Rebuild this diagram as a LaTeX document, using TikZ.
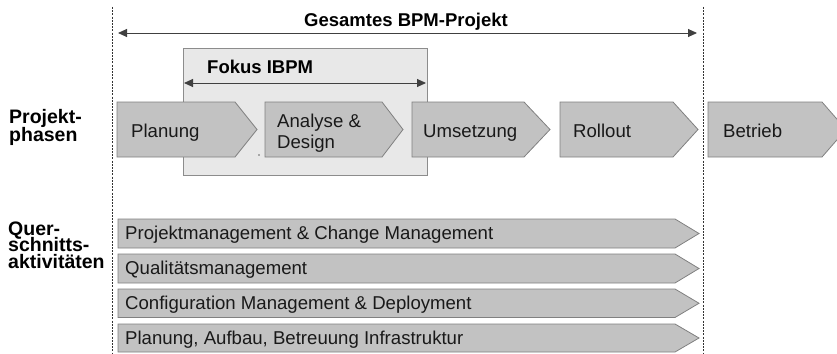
\documentclass[tikz,border=0pt]{standalone}
\usepackage{fontspec}
\setmainfont{Liberation Sans}
\usetikzlibrary{arrows.meta}
\definecolor{chevfill}{gray}{0.76}
\definecolor{chevline}{gray}{0.50}
\definecolor{boxfill}{gray}{0.91}
\definecolor{boxline}{gray}{0.55}
\begin{document}
\begin{tikzpicture}[x=1pt,y=-1pt,
  chevron/.style={fill=chevfill,draw=chevline,line width=0.8pt},
  focusbox/.style={fill=boxfill,draw=boxline,line width=0.9pt},
  divider/.style={draw=black!80,dash pattern=on 2pt off 1.2pt,line width=0.8pt},
  span/.style={{Triangle[length=9pt,width=8pt]}-{Triangle[length=9pt,width=8pt]},draw=black!75,line width=0.9pt},
  txt/.style={inner sep=0pt,font=\fontsize{18.6}{21}\selectfont,text=black!90},
  head/.style={inner sep=0pt,font=\fontsize{18.5}{18}\bfseries,text=black,align=left},
  rowhead/.style={inner sep=0pt,font=\fontsize{19.5}{18}\bfseries,text=black},
]
\useasboundingbox (0,0) rectangle (837,353);
% dividers
\coordinate (dlt) at (112.5,7); \coordinate (dlb) at (112.5,353);
\coordinate (drt) at (703,7); \coordinate (drb) at (703,353);
\draw[divider] (dlt) -- (dlb);
\draw[divider] (drt) -- (drb);
% overall span
\coordinate (gl) at (118,33); \coordinate (gr) at (697,33);
\draw[span] (gl) -- (gr);
\node[head,anchor=base] (gesamt) at (406,26.5) {Gesamtes BPM-Projekt};
% focus box
\draw[focusbox] (183,48) rectangle (427,175.5);
\coordinate (fl) at (184,83); \coordinate (fr) at (426,83);
\draw[span] (fl) -- (fr);
\node[head,anchor=base west] (fokus) at (207,74) {Fokus IBPM};
% phase chevrons
\draw[chevron] (117,102) -- (235,102) -- (257,129.5) -- (235,157) -- (117,157) -- cycle;
\draw[chevron] (265,102) -- (382,102) -- (403,129.5) -- (382,157) -- (265,157) -- cycle;
\draw[chevron] (412,102) -- (524,102) -- (550,129.5) -- (524,157) -- (412,157) -- cycle;
\draw[chevron] (560,102) -- (673,102) -- (698,129.5) -- (673,157) -- (560,157) -- cycle;
\draw[chevron] (708,102) -- (822,102) -- (846,129.5) -- (822,157) -- (708,157) -- cycle;
\fill[black!60] (259,155) circle (0.8);
\node[txt,anchor=base west] (planung) at (131,137) {Planung};
\node[txt,anchor=base west] (analyse) at (277,127) {Analyse \&};
\node[txt,anchor=base west] (design) at (277,148) {Design};
\node[txt,anchor=base west] (umsetzung) at (423,137) {Umsetzung};
\node[txt,anchor=base west] (rollout) at (573,137) {Rollout};
\node[txt,anchor=base west] (betrieb) at (723,137) {Betrieb};
% row labels
\node[rowhead,anchor=base west] (proj1) at (9,123.5) {Projekt-};
\node[rowhead,anchor=base west] (proj2) at (9,141.5) {phasen};
\node[rowhead,anchor=base west] (quer1) at (8,235) {Quer-};
\node[rowhead,anchor=base west] (quer2) at (8,251.5) {schnitts-};
\node[rowhead,anchor=base west] (quer3) at (8,268) {aktivitäten};
% cross-cutting bars
\foreach \t/\b/\lab/\nm in {219/248/{Projektmanagement \& Change Management}/b1,
                          254/283/{Qualitätsmanagement}/b2,
                          289/317.5/{Configuration Management \& Deployment}/b3,
                          324/352/{Planung, Aufbau, Betreuung Infrastruktur}/b4}{
  \draw[chevron] (118,\t) -- (675,\t) -- (699,{(\t+\b)/2}) -- (675,\b) -- (118,\b) -- cycle;
  \node[txt,anchor=base west] (\nm) at (125,{(\t+\b)/2+6}) {\lab};
}
\end{tikzpicture}
\end{document}
